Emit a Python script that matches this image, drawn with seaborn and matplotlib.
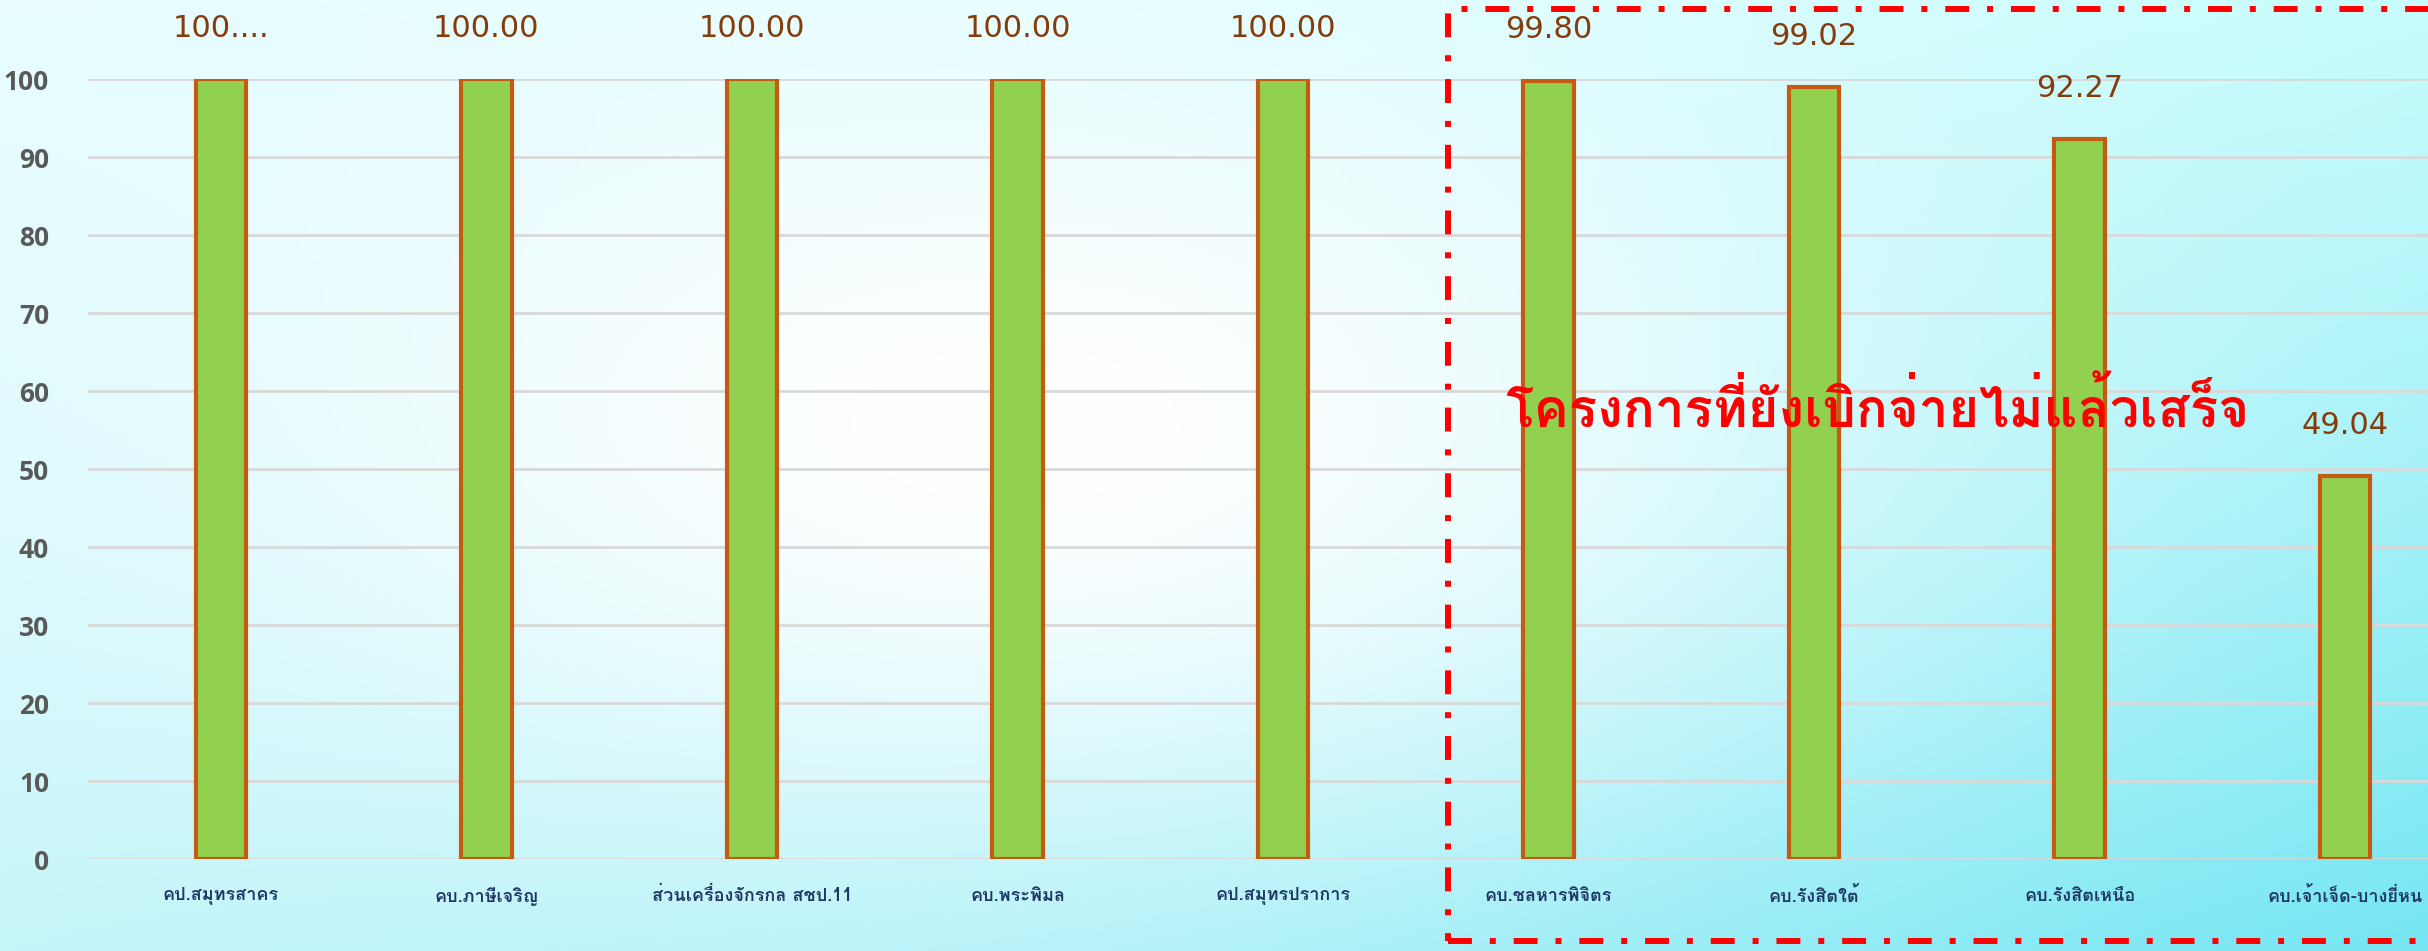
import numpy as np
import pandas as pd
import matplotlib
matplotlib.use("Agg")
import matplotlib.pyplot as plt
import seaborn as sns
from matplotlib import font_manager
from matplotlib.ft2font import FT2Font

# ข้อมูล
categories = ["คป.สมุทรสาคร", "คบ.ภาษีเจริญ", "ส่วนเครื่องจักรกล สชป.11", "คบ.พระพิมล",
              "คป.สมุทรปราการ", "คบ.ชลหารพิจิตร", "คบ.รังสิตใต้", "คบ.รังสิตเหนือ",
              "คบ.เจ้าเจ็ด-บางยี่หน"]
values = [100.00, 100.00, 100.00, 100.00, 100.00, 99.80, 99.02, 92.27, 49.04]
value_labels = ["100....", "100.00", "100.00", "100.00", "100.00", "99.80", "99.02", "92.27", "49.04"]
y_ticks = [0, 10, 20, 30, 40, 50, 60, 70, 80, 90, 100]
note_text = "โครงการที่ยังเบิกจ่ายไม่แล้วเสร็จ"

df = pd.DataFrame({"cat": categories, "val": values})

# หาฟอนต์ที่มีอักษรไทย
thai_fonts = []
for f in font_manager.fontManager.ttflist:
    try:
        cm = FT2Font(f.fname).get_charmap()
    except Exception:
        continue
    if 0x0E01 in cm and f.name not in thai_fonts:
        thai_fonts.append(f.name)
pick = [n for n in ["Loma", "Noto Sans Thai Looped", "Noto Sans Thai"] if n in thai_fonts]
thai_family = (pick or thai_fonts)[:1] + ["DejaVu Sans"]

sns.set_theme(style="white")
plt.rcParams["font.family"] = thai_family

W, H = 2428, 951
fig = plt.figure(figsize=(W / 100, H / 100), dpi=100)

# พื้นหลังไล่สี
bg = fig.add_axes([0, 0, 1, 1])
xx, yy = np.meshgrid(np.linspace(0, 1, 400), np.linspace(0, 1, 160))
tl = np.array([0.90, 0.99, 1.00])
tr = np.array([0.78, 0.99, 0.99])
bl = np.array([0.76, 0.96, 0.98])
br = np.array([0.45, 0.90, 0.95])
X, Y = xx[..., None], yy[..., None]
base = tl * (1 - X) * (1 - Y) + tr * X * (1 - Y) + bl * (1 - X) * Y + br * X * Y
white = np.exp(-((xx - 0.42) ** 2) / 0.14 - ((yy - 0.45) ** 2) / 0.22)[..., None]
img = base * (1 - white) + white
bg.imshow(np.clip(img, 0, 1), aspect="auto", extent=[0, 1, 0, 1], origin="upper",
          interpolation="bilinear")
bg.set_axis_off()

ax = fig.add_axes([88 / W, (H - 859) / H, (2478 - 88) / W, (859 - 79) / H])
ax.patch.set_alpha(0)
sns.barplot(data=df, x="cat", y="val", ax=ax, width=0.19, color="#92D050",
            edgecolor="#C55A11", linewidth=3, saturation=1, zorder=3)
ax.set_ylim(0, 100)
ax.set_xlim(-0.5, 8.5)
ax.set_yticks(y_ticks)
ax.yaxis.grid(True, color="#D9D9D9", linewidth=2)
ax.set_axisbelow(True)
for s in ax.spines.values():
    s.set_visible(False)
ax.set_xlabel("")
ax.set_ylabel("")
ax.tick_params(axis="y", length=0, pad=28, labelsize=19, labelcolor="#595959")
ax.tick_params(axis="x", length=0, pad=20, labelsize=13, labelcolor="#1F3864")
for t in ax.get_yticklabels():
    t.set_family(["Open Sans", "DejaVu Sans"])
    t.set_fontweight("bold")
for t in ax.get_xticklabels():
    t.set_fontweight("bold")

for i, (v, lab) in enumerate(zip(values, value_labels)):
    ax.annotate(lab, (i, v), xytext=(0, 26), textcoords="offset points",
                ha="center", va="bottom", fontsize=22, color="#843C0C",
                family=["Liberation Sans Narrow", "DejaVu Sans"], annotation_clip=False)

# กรอบเส้นประสีแดง
rect = plt.Rectangle((1448 / W, (H - 941) / H), 0.7, (941 - 9) / H, transform=fig.transFigure,
                     fill=False, edgecolor="#FF0000", linewidth=4.3,
                     linestyle=(0, (4, 3, 1, 3)), zorder=10)
fig.patches.append(rect)

fig.text(1505 / W, 1 - 410 / H, note_text, color="#FF0000", fontsize=38, fontweight="bold",
         ha="left", va="center")

fig.savefig("out.png", dpi=100)
